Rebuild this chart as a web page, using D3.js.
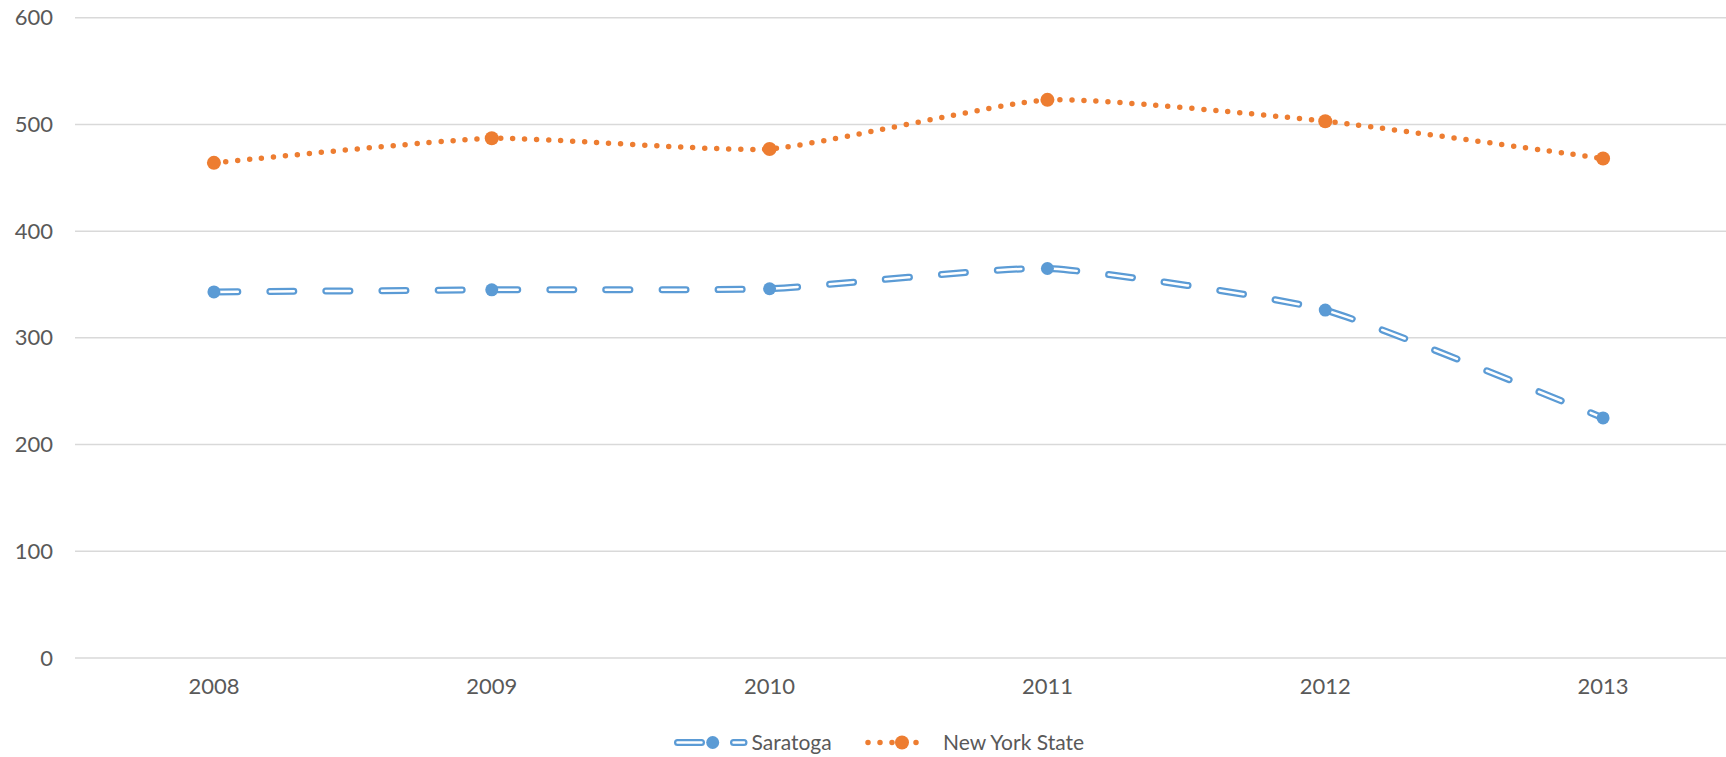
<!DOCTYPE html>
<html>
<head>
<meta charset="utf-8">
<script src="https://cdn.jsdelivr.net/npm/d3@7"></script>
<style>
  html, body { margin: 0; padding: 0; background: #fff; overflow: hidden; }
  svg { display: block; }
  text { font-family: Lato, "Open Sans", sans-serif; fill: #595959; }
</style>
</head>
<body>
<svg id="chart" width="1726" height="757"></svg>
<script>
// ---- data ----
const years = ["2008", "2009", "2010", "2011", "2012", "2013"];
const saratoga = [343, 345, 346, 365, 326, 225];
const newYorkState = [464, 487, 477, 523, 503, 468];
const yTicks = [0, 100, 200, 300, 400, 500, 600];
const seriesNames = ["Saratoga", "New York State"];

// ---- layout ----
const W = 1726, H = 757;
const plot = { left: 75, right: 1742, top: 17.7, bottom: 658 };
const blue = "#5B9BD5", orange = "#ED7D31";
const fontSize = 21;
const axisFontSize = 22;

const svg = d3.select("#chart");

const x = d3.scaleBand().domain(years).range([plot.left, plot.right]);
const xc = d => x(d) + x.bandwidth() / 2;
const y = d3.scaleLinear().domain([0, 600]).range([plot.bottom, plot.top]);

// gridlines
svg.append("g").selectAll("line").data(yTicks).join("line")
  .attr("x1", plot.left).attr("x2", plot.right)
  .attr("y1", d => y(d)).attr("y2", d => y(d))
  .attr("stroke", "#d9d9d9").attr("stroke-width", 1.5);

// y axis labels
const yAxis = d3.axisLeft(y).tickValues(yTicks).tickSize(0).tickPadding(0);
const gy = svg.append("g").attr("transform", `translate(${plot.left - 22},0)`).call(yAxis);
gy.select(".domain").remove();
gy.selectAll("text").attr("font-size", axisFontSize).style("font-family", "Lato, 'Open Sans', sans-serif").attr("fill", "#595959");

// x axis labels
const xAxis = d3.axisBottom(x).tickSize(0).tickPadding(0);
const gx = svg.append("g").attr("transform", `translate(0,${plot.bottom + 20})`).call(xAxis);
gx.select(".domain").remove();
gx.selectAll("text").attr("font-size", axisFontSize).style("font-family", "Lato, 'Open Sans', sans-serif").attr("fill", "#595959");

const line = d3.line()
  .x((d, i) => xc(years[i]))
  .y(d => y(d))
  .curve(d3.curveCardinal.tension(0.5));

// Saratoga: compound dashed line (blue outline with white core)
svg.append("path").datum(saratoga).attr("d", line)
  .attr("fill", "none").attr("stroke", blue).attr("stroke-width", 7)
  .attr("stroke-linecap", "round").attr("stroke-dasharray", "24 32");
svg.append("path").datum(saratoga).attr("d", line)
  .attr("fill", "none").attr("stroke", "#fff").attr("stroke-width", 2.5)
  .attr("stroke-linecap", "round").attr("stroke-dasharray", "24 32");

// New York State: round dotted line
svg.append("path").datum(newYorkState).attr("d", line)
  .attr("fill", "none").attr("stroke", orange).attr("stroke-width", 5.5)
  .attr("stroke-linecap", "round").attr("stroke-dasharray", "0 12");

// markers
svg.append("g").selectAll("circle").data(saratoga).join("circle")
  .attr("cx", (d, i) => xc(years[i])).attr("cy", d => y(d))
  .attr("r", 6.5).attr("fill", blue);
svg.append("g").selectAll("circle").data(newYorkState).join("circle")
  .attr("cx", (d, i) => xc(years[i])).attr("cy", d => y(d))
  .attr("r", 7).attr("fill", orange);

// legend
const ly = 742.5;
const lg = svg.append("g");
// Saratoga entry
lg.append("line").attr("x1", 677.5).attr("x2", 744).attr("y1", ly).attr("y2", ly)
  .attr("stroke", blue).attr("stroke-width", 7).attr("stroke-linecap", "round")
  .attr("stroke-dasharray", "24 32");
lg.append("line").attr("x1", 677.5).attr("x2", 744).attr("y1", ly).attr("y2", ly)
  .attr("stroke", "#fff").attr("stroke-width", 2.5).attr("stroke-linecap", "round")
  .attr("stroke-dasharray", "24 32");
lg.append("circle").attr("cx", 712.7).attr("cy", ly).attr("r", 6.5).attr("fill", blue);
lg.append("text").attr("x", 751.5).attr("y", ly).attr("dy", "0.35em")
  .attr("font-size", fontSize).text(seriesNames[0]);
// NYS entry
lg.append("line").attr("x1", 868).attr("x2", 928).attr("y1", ly).attr("y2", ly)
  .attr("stroke", orange).attr("stroke-width", 5.5).attr("stroke-linecap", "round")
  .attr("stroke-dasharray", "0 12");
lg.append("circle").attr("cx", 902).attr("cy", ly).attr("r", 7).attr("fill", orange);
lg.append("text").attr("x", 943).attr("y", ly).attr("dy", "0.35em")
  .attr("font-size", fontSize).text(seriesNames[1]);
</script>
</body>
</html>
